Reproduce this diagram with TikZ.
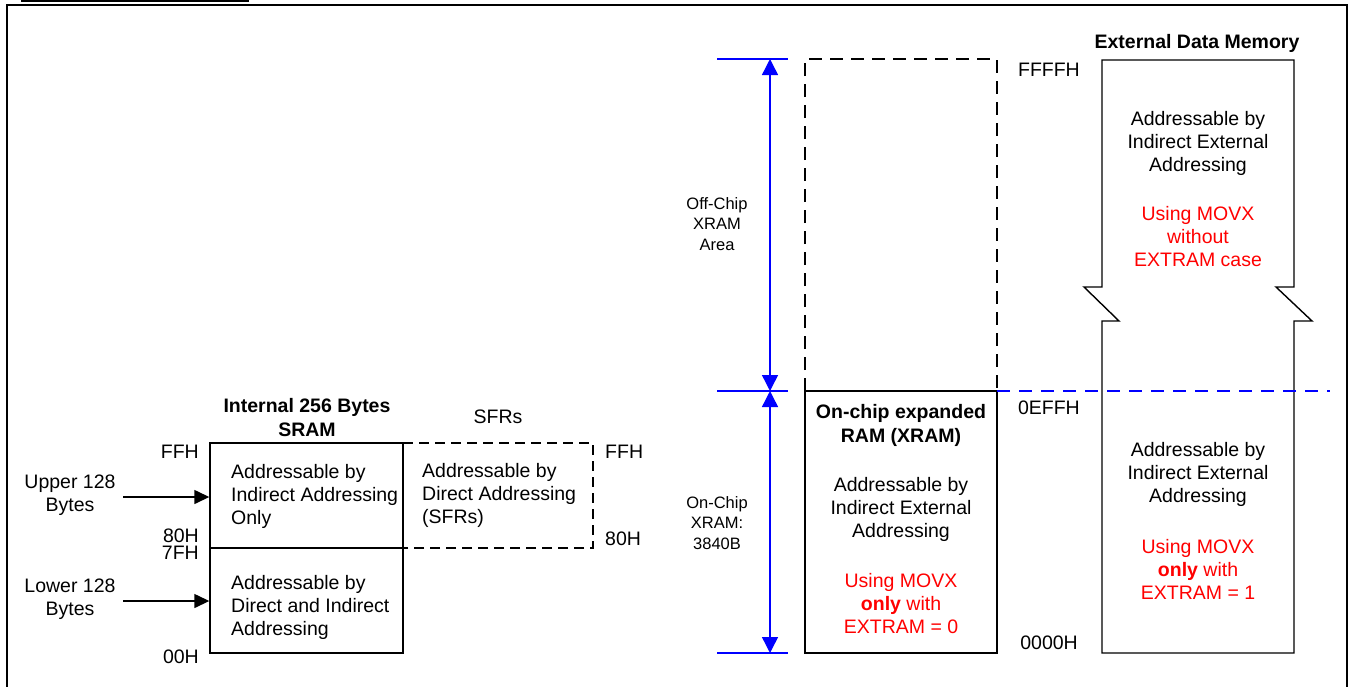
\documentclass[tikz,border=0pt]{standalone}
\usepackage{fontspec}
\setmainfont{Liberation Sans}
\usetikzlibrary{arrows.meta}
\begin{document}
\begin{tikzpicture}[x=1pt,y=-1pt,
  txt/.style={font=\fontsize{19.5}{23}\selectfont, inner sep=0pt},
  btxt/.style={font=\fontsize{19.5}{24}\selectfont\bfseries, inner sep=0pt, align=center},
  sm/.style={font=\fontsize{16.5}{20.5}\selectfont, inner sep=0pt, align=center},
  redtxt/.style={txt, text=red, align=center},
  memline/.style={line width=1.4pt},
  box/.style={draw, memline, inner sep=0pt},
  dshA/.style={memline, dash pattern=on 10pt off 6pt},
  dshB/.style={memline, dash pattern=on 13pt off 8pt},
  blk/.style={memline, -{Triangle[length=15pt,width=14pt]}},
  bline/.style={blue, line width=1.4pt},
  barr/.style={bline, {Triangle[length=16pt,width=16pt]}-{Triangle[length=16pt,width=16pt]}},
  bdash/.style={bline, dash pattern=on 13pt off 9pt}]
\useasboundingbox (0,0) rectangle (1354,686);
% frame
\draw[line width=2.8pt] (7,700) -- (7,5) -- (1347,5) -- (1347,700);
\draw[line width=3pt] (21,0) -- (249,0);

% ---------- internal SRAM ----------
\node[btxt] (ttl) at (307,417.5) {Internal 256 Bytes\\SRAM};
\node[box, minimum width=193pt, minimum height=105pt] (up) at (306.5,495.5) {};
\node[box, minimum width=193pt, minimum height=105pt] (low) at (306.5,600.5) {};
\node[txt, align=left, anchor=west] (uptxt) at (231,496) {Addressable by\\Indirect Addressing\\Only};
\node[txt, align=left, anchor=west] (lowtxt) at (231,607.5) {Addressable by\\Direct and Indirect\\Addressing};
\node[txt, anchor=east] (a1) at (199,452) {FFH};
\node[txt, anchor=east] (a2) at (199,536) {80H};
\node[txt, anchor=east] (a3) at (199,553) {7FH};
\node[txt, anchor=east] (a4) at (199,657) {00H};
\node[txt, align=center] (ul) at (70,495.5) {Upper 128\\Bytes};
\node[txt, align=center] (ll) at (70,599.5) {Lower 128\\Bytes};
\coordinate (ua) at (123,497);
\coordinate (la) at (123,601);
\draw[blk] (ua) -- (ua -| up.west);
\draw[blk] (la) -- (la -| low.west);

% SFRs
\node[txt] (sfrt) at (498,417) {SFRs};
\coordinate (s1) at (403,443);
\coordinate (s2) at (593,443);
\coordinate (s3) at (593,548);
\coordinate (s4) at (403,548);
\draw[dshA] (s1) -- (s2) -- (s3) -- (s4);
\node[txt, align=left, anchor=west] (sfrtxt) at (422,495) {Addressable by\\Direct Addressing\\(SFRs)};
\node[txt, anchor=west] (s5) at (605,452) {FFH};
\node[txt, anchor=west] (s6) at (605,539) {80H};

% ---------- XRAM ----------
\coordinate (b1l) at (717,59);  \coordinate (b1r) at (788,59);
\coordinate (b2l) at (717,391); \coordinate (b2r) at (788,391);
\coordinate (b3l) at (717,653); \coordinate (b3r) at (788,653);
\coordinate (v1) at (770,59); \coordinate (v2) at (770,391); \coordinate (v3) at (770,653);
\draw[bline] (b1l) -- (b1r);
\draw[bline] (b2l) -- (b2r);
\draw[bline] (b3l) -- (b3r);
\draw[barr] (v1) -- (v2);
\draw[barr] (v2) -- (v3);
\node[sm] (offl) at (717,224) {Off-Chip\\XRAM\\Area};
\node[sm] (onl) at (717,523) {On-Chip\\XRAM:\\3840B};

\coordinate (d1) at (805,391); \coordinate (d2) at (805,59);
\coordinate (d3) at (997,59);  \coordinate (d4) at (997,391);
\draw[dshB] (d1) -- (d2) -- (d3) -- (d4);
\node[box, minimum width=192pt, minimum height=262pt] (xr) at (901,522) {};
\node[btxt] (xrt) at (901,425) {On-chip expanded\\RAM (XRAM)};
\node[txt, align=center] (xrtxt) at (901,509) {Addressable by\\Indirect External\\Addressing};
\node[redtxt] (xrred) at (901,604) {Using MOVX\\\textbf{only} with\\EXTRAM = 0};

\node[txt, anchor=east] (e1) at (1080,70) {FFFFH};
\node[txt, anchor=east] (e2) at (1080,408) {0EFFH};
\node[txt, anchor=east] (e3) at (1078,643) {0000H};

% ---------- External data memory ----------
\node[btxt] (ext) at (1197,43) {External Data Memory};
\draw[memline] (1102,287) -- (1102,60) -- (1294,60) -- (1294,287) -- (1276,287)
  -- (1312,321) -- (1294,321) -- (1294,653) -- (1102,653) -- (1102,321)
  -- (1119,321) -- (1084,287) -- cycle;
\node[txt, align=center] (ex1) at (1198,143) {Addressable by\\Indirect External\\Addressing};
\node[redtxt] (ex2) at (1198,237) {Using MOVX\\without\\EXTRAM case};
\node[txt, align=center] (ex3) at (1198,474) {Addressable by\\Indirect External\\Addressing};
\node[redtxt] (ex4) at (1198,569) {Using MOVX\\\textbf{only} with\\EXTRAM = 1};

\coordinate (bd1) at (997,391); \coordinate (bd2) at (1330,391);
\draw[bdash] (bd1) -- (bd2);
\end{tikzpicture}
\end{document}
